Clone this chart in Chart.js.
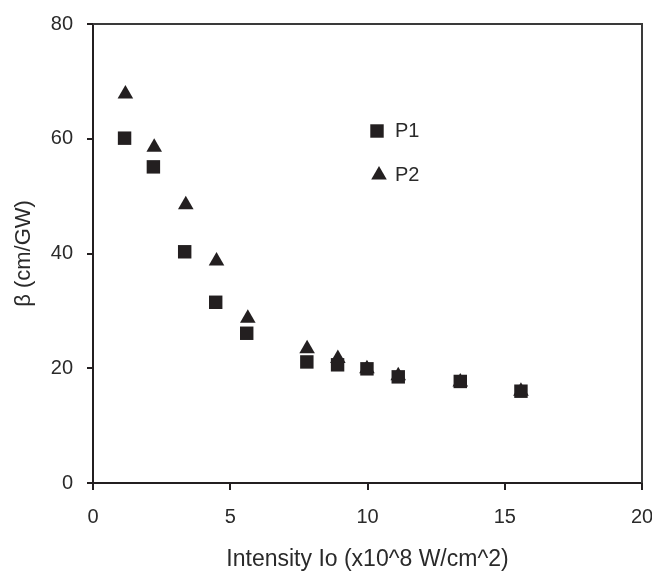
<!DOCTYPE html>
<html>
<head>
<meta charset="utf-8">
<script src="https://cdn.jsdelivr.net/npm/chart.js@4/dist/chart.umd.min.js"></script>
<style>
  html, body { margin: 0; padding: 0; background: #fff; }
  #wrap { width: 652px; height: 571px; position: relative; }
</style>
</head>
<body>
<div id="wrap"><canvas id="betaChart"></canvas></div>
<script>
// values
const p1X = [1.15, 2.2, 3.34, 4.47, 5.6, 7.79, 8.91, 9.98, 11.12, 13.38, 15.59];
const p1Y = [60.1, 55.1, 40.3, 31.5, 26.1, 21.1, 20.6, 19.9, 18.5, 17.7, 16.0];
const p2X = [1.18, 2.23, 3.38, 4.5, 5.64, 7.8, 8.92, 9.98, 11.12, 13.38, 15.59];
const p2Y = [67.8, 58.5, 48.5, 38.7, 28.7, 23.4, 21.7, 19.9, 18.7, 17.6, 16.0];
const xTicks = [0, 5, 10, 15, 20];
const yTicks = [0, 20, 40, 60, 80];

const ink = '#231f20';
const textCol = '#2a2a2a';
const fontFam = '"Liberation Sans", Arial, sans-serif';

const toPoints = (xs, ys) => xs.map((x, i) => ({ x: x, y: ys[i] }));

// top/right frame lines + in-plot legend
const framePlugin = {
    id: 'frame',
    afterDraw(chart) {
        const { ctx, chartArea: a } = chart;
        ctx.save();
        ctx.strokeStyle = '#3a3a3a';
        ctx.lineWidth = 2;
        ctx.beginPath();
        ctx.moveTo(a.left, a.top);
        ctx.lineTo(a.right, a.top);
        ctx.lineTo(a.right, a.bottom);
        ctx.stroke();

        const lx = a.left + 284, ly = a.top + 107;
        ctx.fillStyle = ink;
        Chart.helpers.drawPoint(ctx, { pointStyle: 'rect', radius: 9.5, borderWidth: 0 }, lx, ly);
        Chart.helpers.drawPoint(ctx, { pointStyle: 'triangle', radius: 9, borderWidth: 0 }, lx + 2, ly + 44);
        ctx.fillStyle = textCol;
        ctx.font = '20px ' + fontFam;
        ctx.textBaseline = 'middle';
        ctx.fillText('P1', lx + 18, ly);
        ctx.fillText('P2', lx + 18, ly + 44);
        ctx.restore();
    }
};

new Chart(document.getElementById('betaChart'), {
    type: 'scatter',
    data: {
        datasets: [
            {
                label: 'P1',
                data: toPoints(p1X, p1Y),
                pointStyle: 'rect',
                pointRadius: 9.5,
                pointHoverRadius: 9.5,
                backgroundColor: ink,
                borderWidth: 0
            },
            {
                label: 'P2',
                data: toPoints(p2X, p2Y),
                pointStyle: 'triangle',
                pointRadius: 9,
                pointHoverRadius: 9,
                backgroundColor: ink,
                borderWidth: 0
            }
        ]
    },
    options: {
        responsive: true,
        maintainAspectRatio: false,
        animation: false,
        layout: { padding: { left: 0, top: 24, right: 10, bottom: 0 } },
        plugins: { legend: { display: false }, tooltip: { enabled: false } },
        scales: {
            x: {
                type: 'linear',
                min: 0, max: 20,
                afterBuildTicks: s => { s.ticks = xTicks.map(v => ({ value: v })); },
                afterFit: s => { s.height = 88; s.paddingLeft = 0; s.paddingRight = 0; },
                border: { color: ink, width: 2 },
                grid: { drawOnChartArea: false, color: ink, lineWidth: 2, tickLength: 7 },
                ticks: { color: textCol, padding: 15, maxRotation: 0, font: { family: fontFam, size: 20 } },
                title: {
                    display: true,
                    text: 'Intensity Io (x10^8 W/cm^2)',
                    color: textCol,
                    padding: 0,
                    font: { family: fontFam, size: 23, lineHeight: 1.0 }
                }
            },
            y: {
                type: 'linear',
                min: 0, max: 80,
                afterBuildTicks: s => { s.ticks = yTicks.map(v => ({ value: v })); },
                afterFit: s => { s.width = 93; s.paddingTop = 0; s.paddingBottom = 0; },
                border: { color: ink, width: 2 },
                grid: { drawOnChartArea: false, color: ink, lineWidth: 2, tickLength: 6 },
                ticks: { color: textCol, padding: 14, font: { family: fontFam, size: 20 } },
                title: {
                    display: true,
                    text: 'β (cm/GW)',
                    color: textCol,
                    padding: { top: 12, bottom: 0 },
                    font: { family: fontFam, size: 22, lineHeight: 1.1 }
                }
            }
        }
    },
    plugins: [framePlugin]
});
</script>
</body>
</html>
